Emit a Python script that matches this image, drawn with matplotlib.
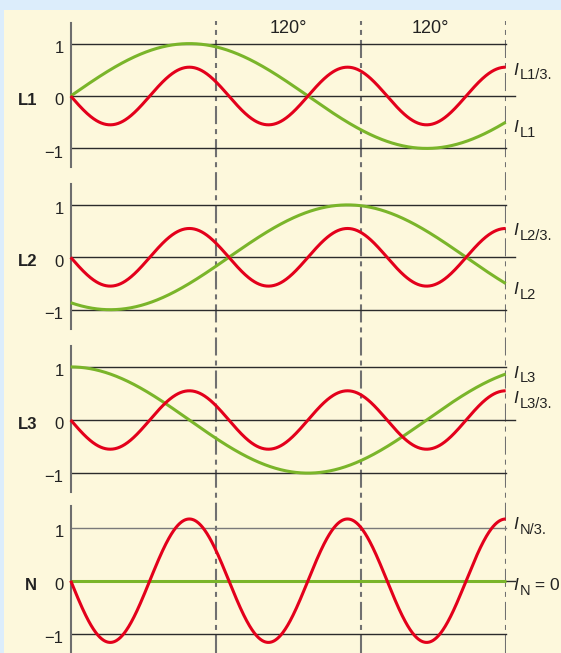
import numpy as np
import matplotlib
matplotlib.use("Agg")
import matplotlib.pyplot as plt
from matplotlib.patches import Rectangle

plt.rcParams['font.family'] = ['Liberation Sans', 'DejaVu Sans']
plt.rcParams['lines.scale_dashes'] = False

# ---------------- data ----------------
panel_names = ['L1', 'L2', 'L3', 'N']
fund_amp = [1.0, 1.0, 1.0, 0.0]            # fundamental amplitude
fund_phase = [0.0, -120.0, 90.0, 0.0]      # fundamental phase offset (deg)
third_amp = [0.55, 0.55, 0.55, 1.16]       # third-harmonic amplitude
third_phase = [180.0, 180.0, 180.0, 180.0] # third-harmonic phase offset (deg)
grid_span = 360.0        # width of the drawn window on the grid (deg)
phase_span = 330.0       # fundamental phase covered by that window (deg)
sector_marks = [120, 240, 360]
sector_labels = ['120°', '120°']
sector_label_x = [180, 298]
yticks = [-1, 0, 1]
ytick_labels = ['\u22121', '0', '1']
fund_sub = ['L1', 'L2', 'L3', 'N']
fund_tail = ['', '', '', ' = 0']
third_sub = ['L1/3.', 'L2/3.', 'L3/3.', 'N/3.']

# ---------------- layout ----------------
W, H, DPI = 561, 653, 100
X0, PX_PER_DEG = 70.7, 435.0 / 360.0
y0_px = [96.0, 257.3, 420.0, 580.7]
scale_px = [52.4, 52.4, 53.1, 53.2]
YTOP, YBOT = 1.40, 1.36
third_label_top = [0.63, 0.65, 0.54, 1.19]
fund_label_top = [-0.46, -0.48, 1.02, 0.05]

RED = '#e3001b'
GREEN = '#7ab52a'
DARK = '#2b2b2b'
GREY = '#6e6e6e'

fig = plt.figure(figsize=(W / DPI, H / DPI), dpi=DPI)
fig.patch.set_facecolor('#dcedfb')
fig.add_artist(Rectangle((4 / W, 0), 1, 1 - 9.5 / H, transform=fig.transFigure,
                         facecolor='#fdf8dc', edgecolor='none', zorder=0))

# overlay axes for the dash-dot sector lines
ov = fig.add_axes([X0 / W, 0, 435 / W, (H - 21) / H])
ov.set_xlim(0, grid_span)
ov.set_ylim(0, 1)
ov.axis('off')
ov.patch.set_alpha(0)
for m in sector_marks:
    ov.axvline(m, color='#707070', lw=1.5, linestyle=(0, (13, 3.6, 3.6, 3.6)))

x = np.linspace(0, grid_span, 901)
phi = np.deg2rad(x * phase_span / grid_span)

def pt(px):
    return px * 72.0 / DPI

for i, name in enumerate(panel_names):
    s = scale_px[i]
    top_px = y0_px[i] - YTOP * s
    bot_px = y0_px[i] + YBOT * s
    ax = fig.add_axes([X0 / W, 1 - bot_px / H, 435 / W, (bot_px - top_px) / H])
    ax.set_xlim(0, grid_span)
    ax.set_ylim(-YBOT, YTOP)
    ax.patch.set_alpha(0)
    for sp in ['top', 'right', 'bottom']:
        ax.spines[sp].set_visible(False)
    ax.spines['left'].set_color(GREY)
    ax.spines['left'].set_linewidth(1.5)
    ax.set_xticks([])
    ax.set_yticks([])

    # reference lines
    pm_col = ['#2b2b2b', '#2b2b2b', '#2b2b2b', '#7a7a7a']
    ax.plot([0, grid_span], [1, 1], color=pm_col[i], lw=1.0, zorder=2, clip_on=False)
    ax.plot([0, grid_span], [-1, -1], color=DARK, lw=1.0, zorder=2, clip_on=False)
    ax.plot([0, 367.5], [0, 0], color=DARK, lw=1.0, zorder=2, clip_on=False)

    # curves
    yf = fund_amp[i] * np.sin(phi + np.deg2rad(fund_phase[i]))
    y3 = third_amp[i] * np.sin(3 * phi + np.deg2rad(third_phase[i]))
    ax.plot(x, yf, color=GREEN, lw=2.2, zorder=3, clip_on=False,
            solid_capstyle='butt')
    ax.plot(x, y3, color=RED, lw=2.2, zorder=4, clip_on=False,
            solid_capstyle='butt')

    # tick labels
    for t, lab in zip(yticks, ytick_labels):
        ax.annotate(lab, xy=(0, t), xytext=(-pt(7.0), -pt(9.3)),
                    textcoords='offset points', ha='right', va='baseline',
                    fontsize=12, color='#222222', annotation_clip=False)
    # panel name
    ax.annotate(name, xy=(0, 0), xytext=(-pt(33.5), -pt(9.0)),
                textcoords='offset points', ha='right', va='baseline',
                fontsize=12, fontweight='bold', color='#222222',
                annotation_clip=False)

    # right-hand labels
    lx = (513 - X0) / PX_PER_DEG
    for top, sub, tail in [(third_label_top[i], third_sub[i], ''),
                           (fund_label_top[i], fund_sub[i], fund_tail[i])]:
        ax.text(lx, top, 'I', fontsize=12.5, style='italic', ha='left',
                va='top', color='#222222', clip_on=False)
        ax.annotate(sub, xy=(lx, top), xytext=(pt(6.5), -pt(5.5)),
                    textcoords='offset points', ha='left', va='top',
                    fontsize=10.5, color='#222222', annotation_clip=False)
        if tail:
            tx = (530 - X0) / PX_PER_DEG
            ax.text(tx, top, tail, fontsize=12.5, ha='left', va='top',
                    color='#222222', clip_on=False)

    if i == 0:
        for lab, lxp in zip(sector_labels, sector_label_x):
            ax.text(lxp, (y0_px[0] - 33.3) / s, lab, fontsize=13,
                    ha='center', va='baseline', color='#222222', clip_on=False)

fig.savefig('out.png', dpi=DPI, facecolor=fig.get_facecolor())
